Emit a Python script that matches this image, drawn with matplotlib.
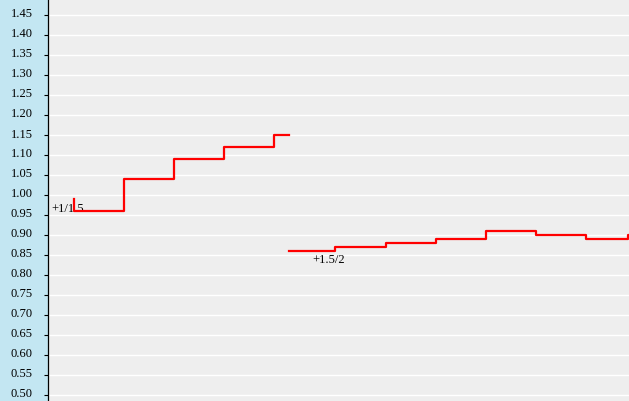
import matplotlib.pyplot as plt
import matplotlib.transforms as mtransforms

# ================= DATA =================
# step series 1 (time units, odds value)
t1 = [0.0, 0.0, 1.0, 2.0, 3.0, 4.0, 4.3]
v1 = [0.99, 0.96, 1.04, 1.09, 1.12, 1.15, 1.15]
# step series 2
t2 = [4.3, 5.22, 6.23, 7.24, 8.23, 9.24, 10.23, 11.08, 11.2]
v2 = [0.86, 0.87, 0.88, 0.89, 0.91, 0.90, 0.89, 0.90, 0.90]

label1 = "+1/1.5"
label2 = "+1.5/2"
yticks = [0.50 + 0.05 * i for i in range(20)]

# ================= FIGURE =================
fig = plt.figure(figsize=(6.29, 4.02), dpi=100, facecolor='#C3E6F2')
ax = fig.add_axes([48 / 629, 0, 581 / 629, 1])
ax.set_facecolor('#EEEEEE')

ax.set_ylim(0.485, 1.49)
ax.set_xlim(-0.52, 11.1)

ax.set_yticks(yticks)
ax.set_yticklabels([f"{y:.2f}" for y in yticks], fontfamily='Liberation Serif', fontsize=9)
ax.set_xticks([])
for y in yticks:
    ax.axhline(y, color='white', linewidth=1.0, zorder=1)

ax.tick_params(axis='y', direction='out', length=3, width=0.8, color='black', pad=8)
offset = mtransforms.ScaledTranslation(0, 0.03, fig.dpi_scale_trans)
for lab in ax.get_yticklabels():
    lab.set_transform(lab.get_transform() + offset)

for side in ['top', 'right', 'bottom']:
    ax.spines[side].set_visible(False)
ax.spines['left'].set_color('black')
ax.spines['left'].set_linewidth(0.9)

ax.plot(t1, v1, drawstyle='steps-post', color='red', linewidth=1.6, zorder=3, clip_on=True)
ax.plot(t2, v2, drawstyle='steps-post', color='red', linewidth=1.6, zorder=3, clip_on=True)

ax.text(t1[0] - 0.46, 0.968, label1, fontfamily='Liberation Serif', fontsize=9,
        va='center', ha='left', zorder=2)
ax.text(t2[0] + 0.47, 0.84, label2, fontfamily='Liberation Serif', fontsize=9,
        va='center', ha='left', zorder=2)

plt.savefig('out.png', dpi=100, facecolor=fig.get_facecolor())
